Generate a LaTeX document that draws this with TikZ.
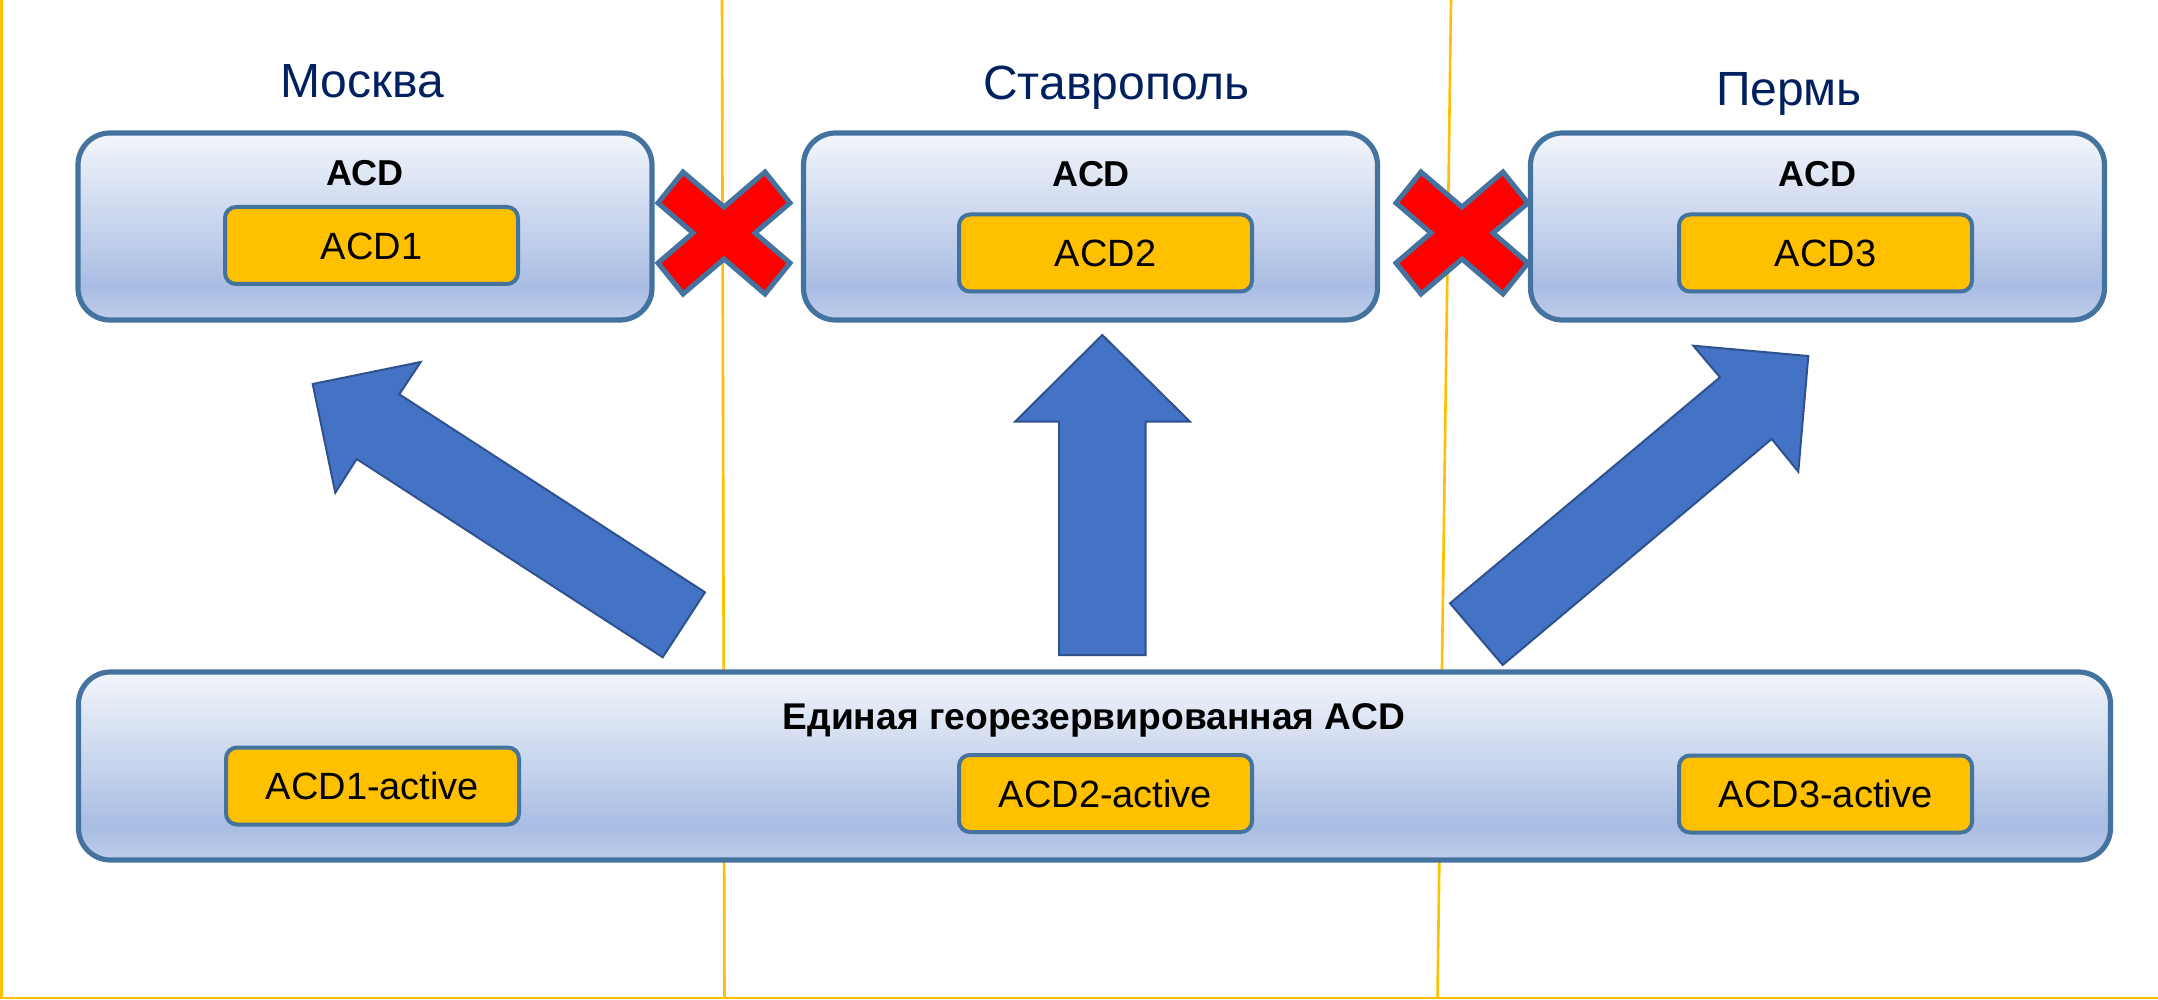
\documentclass[tikz,border=0pt]{standalone}
\usepackage{fontspec}
\setmainfont{Liberation Sans}
\definecolor{bord}{HTML}{44739F}
\definecolor{orng}{HTML}{FFC000}
\definecolor{ylw}{HTML}{FFC000}
\definecolor{navy}{HTML}{002060}
\definecolor{arrfill}{HTML}{4472C4}
\definecolor{arrdraw}{HTML}{2F528F}
\definecolor{gT}{HTML}{F3F6FB}
\definecolor{gM}{HTML}{A9BDE3}
\definecolor{gB}{HTML}{BFCDEA}
\pgfdeclareverticalshading{boxgrad}{100bp}{color(0bp)=(gB); color(25bp)=(gB); color(34bp)=(gM); color(75bp)=(gT); color(100bp)=(gT)}
\tikzset{
  bigbox/.style={draw=bord, line width=2.6pt, rounded corners=16pt, shade, shading=boxgrad, inner sep=0pt, minimum width=287pt, minimum height=93.5pt},
  orbox/.style={draw=bord, fill=orng, line width=2pt, rounded corners=5.5pt, minimum width=146.5pt, minimum height=38.5pt, inner sep=0pt, font=\fontsize{19}{22}\selectfont, text height=13.6pt, text depth=0pt},
  boxtitle/.style={anchor=base, inner sep=0pt, font=\fontsize{18}{21}\selectfont\bfseries},
  city/.style={anchor=base, inner sep=0pt, text=navy, font=\fontsize{24}{28}\selectfont},
  sep/.style={draw=ylw, line width=1.3pt},
  bigarrow/.style={fill=arrfill, draw=arrdraw, line width=1pt, line join=miter},
  redx/.pic={\draw[fill=red, draw=bord, line width=2.5pt, line join=miter]
    (-41,-61) -- (0,-26) -- (41,-61) -- (66,-30) -- (31,0) -- (66,30) -- (41,61) -- (0,26) -- (-41,61) -- (-66,30) -- (-31,0) -- (-66,-30) -- cycle;}
}
\begin{document}
\begin{tikzpicture}[x=0.5pt,y=-0.5pt]
\useasboundingbox (0,0) rectangle (2158,1000);
% separators
\coordinate (l0t) at (1.5,0);
\coordinate (l0b) at (1.5,998);
\coordinate (l1t) at (722,0);
\coordinate (l1b) at (724.5,998);
\coordinate (l2t) at (1451,0);
\coordinate (l2b) at (1437.5,998);
\coordinate (bl) at (0,998);
\coordinate (br) at (2158,998);
\draw[sep] (l0t) -- (l0b);
\draw[sep] (l1t) -- (l1b);
\draw[sep] (l2t) -- (l2b);
\draw[sep] (bl) -- (br);
% city labels
\node[city] (msk) at (362,98) {Москва};
\node[city] (stv) at (1116.5,100) {Ставрополь};
\node[city] (prm) at (1789,106) {Пермь};
% top boxes
\node[bigbox] (b1) at (365,226.5) {};
\node[bigbox] (b2) at (1090.5,226.5) {};
\node[bigbox] (b3) at (1817.5,226.5) {};
\node[boxtitle] (t1) at (365,186) {ACD};
\node[boxtitle] (t2) at (1091,187) {ACD};
\node[boxtitle] (t3) at (1817,187) {ACD};
\node[orbox] (a1) at (371.5,245.5) {ACD1};
\node[orbox] (a2) at (1105.5,253) {ACD2};
\node[orbox] (a3) at (1825.5,253) {ACD3};
% bottom box
\node[bigbox, minimum width=1016pt, minimum height=94pt] (geo) at (1094.5,766) {};
\node[boxtitle, font=\fontsize{18.6}{22}\selectfont\bfseries] (gt) at (1094,729) {Единая георезервированная ACD};
\node[orbox] (g1) at (372.5,786) {ACD1-active};
\node[orbox] (g2) at (1105.5,793.5) {ACD2-active};
\node[orbox] (g3) at (1825.5,794) {ACD3-active};
% block arrows
\draw[bigarrow] (312.7,384) -- (420.7,362) -- (399.3,394.3) -- (705,592.3) -- (662.7,657.3) -- (356.7,459) -- (335.3,492.7) -- cycle;
\draw[bigarrow] (1102.3,335) -- (1190,421.7) -- (1145.7,421.7) -- (1145.7,655) -- (1059,655) -- (1059,421.7) -- (1015,421.7) -- cycle;
\draw[bigarrow] (1808.3,356) -- (1798.3,471.7) -- (1771.7,439) -- (1502.7,665) -- (1450,603.3) -- (1720,377.3) -- (1693.3,345.7) -- cycle;
% red crosses
\pic (x1) at (724,233) {redx};
\pic (x2) at (1462,233) {redx};
\end{tikzpicture}
\end{document}
